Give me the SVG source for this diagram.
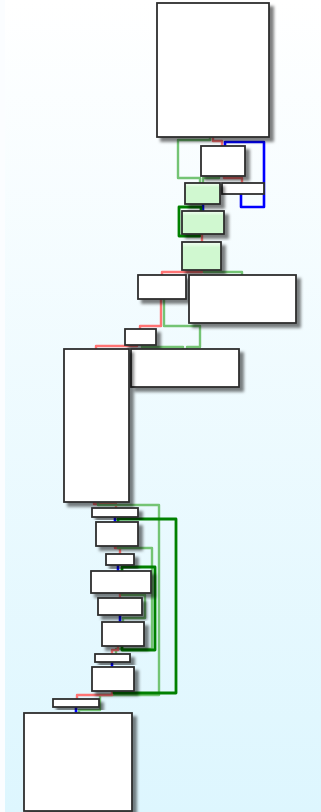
<svg xmlns="http://www.w3.org/2000/svg" width="321" height="812" viewBox="0 0 321 812">
<defs>
<linearGradient id="bg" x1="0" y1="0" x2="0" y2="1">
<stop offset="0" stop-color="#ffffff"/>
<stop offset="1" stop-color="#ddf6fe"/>
</linearGradient>
<linearGradient id="hl" x1="0" y1="0" x2="0" y2="1">
<stop offset="0" stop-color="#f4fff4"/>
<stop offset="0.2" stop-color="#d0f8d0"/>
<stop offset="1" stop-color="#d0f8d0"/>
</linearGradient>
<filter id="sh" x="-20%" y="-20%" width="150%" height="150%">
<feDropShadow dx="4" dy="4" stdDeviation="1.6" flood-color="#000" flood-opacity="0.5"/>
</filter>
</defs>
<style>
.n{fill:#fff;stroke:#2e2e2e;stroke-width:1.8;filter:url(#sh)}
.g{fill:url(#hl)}
.e{fill:none;stroke-width:2.4;stroke-linejoin:round}
.r{stroke:#ff7474}
.lg{stroke:#74c474}
.dg{stroke:#008000;stroke-width:2.8}
.b{stroke:#0000ff;stroke-width:2.6}
</style>
<rect x="0" y="0" width="321" height="812" fill="url(#bg)"/>
<rect x="0" y="0" width="5" height="812" fill="#fbfdff"/>
<g id="edges">
<path class="e lg" d="M210 137V140H178V178H200V183"/>
<path class="e r" d="M213 137V141H222V146"/>
<path class="e b" d="M241 194V207H264V142H225V146"/>
<path class="e lg" d="M219 176V178H203V183"/>
<path class="e r" d="M224 176V178H242V183"/>
<path class="e b" d="M203 204V211"/>
<path class="e dg" d="M200 234V236H179V207H201V211"/>
<path class="e r" d="M202 234V242"/>
<path class="e r" d="M202 270V272H162V275"/>
<path class="e lg" d="M204 270V272H242V275"/>
<path class="e r" d="M161 299V326H140V329"/>
<path class="e lg" d="M164 299V326H200V347H187V349"/>
<path class="e lg" d="M142 345V347H183V349"/>
<path class="e r" d="M137 345V346H96V349"/>
<path class="e r" d="M94 502V504H116V508"/>
<path class="e lg" d="M98 502V505H159V695H100V710H79V713"/>
<path class="e b" d="M115 517V522"/>
<path class="e r" d="M115 546V548H120V554"/>
<path class="e lg" d="M118 546V548H152V649H116V654"/>
<path class="e b" d="M118 565V571"/>
<path class="e r" d="M120 593V598"/>
<path class="e lg" d="M122 593V595H145V618H123V622"/>
<path class="e b" d="M120 615V622"/>
<path class="e r" d="M118 646V650H112V654"/>
<path class="e dg" d="M122 646V650H155V567H122V571"/>
<path class="e b" d="M112 662V667"/>
<path class="e r" d="M112 691V695H77V699"/>
<path class="e dg" d="M114 691V693H176V519H118V522"/>
<path class="e b" d="M76 707V713"/>
</g>
<g id="nA"><rect class="n" x="157" y="3" width="112" height="134"/></g>
<g id="nB"><rect class="n" x="201" y="146" width="44" height="30"/></g>
<g id="nC"><rect class="n" x="222" y="183" width="42" height="11" style="filter:none"/></g>
<g id="nD"><rect class="n g" x="185" y="183" width="35" height="21"/></g>
<g id="nE"><rect class="n g" x="182" y="211" width="42" height="23"/></g>
<g id="nF"><rect class="n g" x="182" y="242" width="39" height="28"/></g>
<g id="nG"><rect class="n" x="138" y="275" width="48" height="24"/></g>
<g id="nH"><rect class="n" x="189" y="275" width="107" height="48"/></g>
<g id="nI"><rect class="n" x="125" y="329" width="31" height="16"/></g>
<g id="nJ"><rect class="n" x="131" y="349" width="108" height="38"/></g>
<g id="nK"><rect class="n" x="64" y="349" width="65" height="153"/></g>
<g id="nL"><rect class="n" x="92" y="508" width="46" height="9"/></g>
<g id="nM"><rect class="n" x="96" y="522" width="42" height="24"/></g>
<g id="nN"><rect class="n" x="106" y="554" width="28" height="11"/></g>
<g id="nO"><rect class="n" x="91" y="571" width="60" height="22"/></g>
<g id="nP"><rect class="n" x="98" y="598" width="44" height="17"/></g>
<g id="nQ"><rect class="n" x="102" y="622" width="42" height="24"/></g>
<g id="nR"><rect class="n" x="95" y="654" width="35" height="8"/></g>
<g id="nS"><rect class="n" x="92" y="667" width="42" height="24"/></g>
<g id="nT"><rect class="n" x="53" y="699" width="46" height="8"/></g>
<g id="nU"><rect class="n" x="24" y="713" width="108" height="98"/></g>
</svg>
